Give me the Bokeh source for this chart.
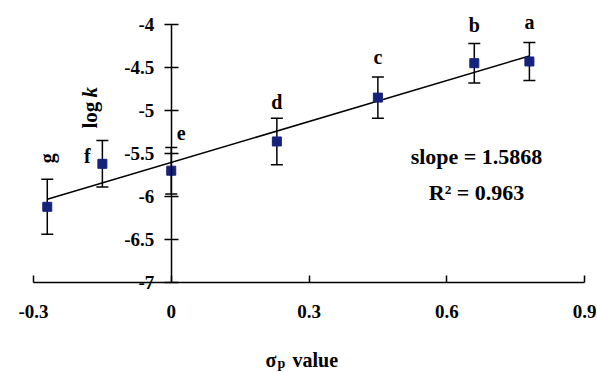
import numpy as np
from bokeh.plotting import figure
from bokeh.models import ColumnDataSource, Whisker, TeeHead, FixedTicker, Label
from bokeh.core.properties import value
from bokeh.embed import file_html
from bokeh.resources import INLINE

# ---- data ----
letters = ["g", "f", "e", "d", "c", "b", "a"]
sigma_p = [-0.27, -0.15, 0.00, 0.23, 0.45, 0.66, 0.78]
log_k = [-6.12, -5.62, -5.70, -5.36, -4.85, -4.45, -4.43]
err = [0.32, 0.27, 0.27, 0.27, 0.24, 0.23, 0.22]
x_ticks = [-0.3, 0.0, 0.3, 0.6, 0.9]
x_tick_labels = ["-0.3", "0", "0.3", "0.6", "0.9"]
y_ticks = [-7.0, -6.5, -6.0, -5.5, -5.0, -4.5, -4.0]
y_tick_labels = ["-7", "-6.5", "-6", "-5.5", "-5", "-4.5", "-4"]
slope_text = "slope = 1.5868"
r2_text = "R\u00b2 = 0.963"

FONT = "Liberation Serif"
W, H = 597, 372
# pixel positions of the axis ends (layout only)
PX_L, PX_R, PY_T, PY_B = 33, 584, 24, 282
X0, X1 = -0.3, 0.9
Y0, Y1 = -7.0, -4.0
ux = (X1 - X0) / (PX_R - PX_L)
uy = (Y1 - Y0) / (PY_B - PY_T)
xr = (X0 - PX_L * ux, X1 + (W - PX_R) * ux)
yr = (Y0 - (H - PY_B) * uy, Y1 + PY_T * uy)


def dx(px):
    return X0 + (px - PX_L) * ux


def dy(py):
    return Y0 + (PY_B - py) * uy


p = figure(width=W, height=H, x_range=xr, y_range=yr,
           output_backend="svg", toolbar_location=None,
           min_border=0)
p.outline_line_color = None
p.grid.visible = False
p.background_fill_color = "white"
p.border_fill_color = "white"

# axes
xa = p.xaxis[0]
xa.fixed_location = Y0
xa.bounds = (X0, X1)
xa.ticker = FixedTicker(ticks=x_ticks)
xa.major_label_overrides = {t: s for t, s in zip(x_ticks, x_tick_labels)}
xa.major_tick_in = 7
xa.major_tick_out = 0
xa.minor_tick_line_color = None
xa.axis_line_width = 1.5
xa.major_tick_line_width = 1.5
xa.major_label_standoff = 22
xa.major_label_text_font = FONT
xa.major_label_text_font_style = "bold"
xa.major_label_text_font_size = "19px"
xa.major_label_text_color = "black"

ya = p.yaxis[0]
ya.fixed_location = 0
ya.bounds = (Y0, Y1)
ya.ticker = FixedTicker(ticks=y_ticks)
ya.major_label_overrides = {t: s for t, s in zip(y_ticks, y_tick_labels)}
ya.major_tick_in = 7
ya.major_tick_out = 7
ya.minor_tick_line_color = None
ya.axis_line_width = 1.5
ya.major_tick_line_width = 1.5
ya.major_label_standoff = 10
ya.major_label_text_font = FONT
ya.major_label_text_font_style = "bold"
ya.major_label_text_font_size = "19px"
ya.major_label_text_color = "black"

# trend line from least squares fit
m, c = np.polyfit(sigma_p, log_k, 1)
xf = [min(sigma_p), max(sigma_p)]
p.line(xf, [m * v + c for v in xf], line_color="black", line_width=1.5)

# error bars
src = ColumnDataSource(dict(
    x=sigma_p, y=log_k,
    upper=[a + b for a, b in zip(log_k, err)],
    lower=[a - b for a, b in zip(log_k, err)],
    label=letters,
))
wh = Whisker(base="x", upper="upper", lower="lower", source=src,
             line_color="black", line_width=1.5,
             upper_head=TeeHead(size=12, line_width=1.5, line_color="black"),
             lower_head=TeeHead(size=12, line_width=1.5, line_color="black"))
p.add_layout(wh)

p.scatter("x", "y", source=src, marker="square", size=9,
          fill_color="#16237b", line_color="#16237b")

# point letters (positioned from the top of each error bar)
x_off = [0, -15, 10, 0, 0, 0, 0]
y_off = [-21, 15, -14, -16, -20, -18, -21]
ang = [np.pi / 2, 0, 0, 0, 0, 0, 0]
lsrc = ColumnDataSource(dict(x=sigma_p, y=src.data["upper"], t=letters,
                             xo=x_off, yo=y_off, a=ang))
p.text("x", "y", text="t", source=lsrc, x_offset="xo", y_offset="yo", angle="a",
       text_align="center", text_baseline="alphabetic",
       text_font=value(FONT), text_font_style="bold", text_font_size="20px",
       text_color="black")

# fit annotations
for txt, py in [(slope_text, 156), (r2_text, 192)]:
    p.add_layout(Label(x=dx(476), y=dy(py), text=txt, text_align="center",
                       text_baseline="middle", text_font=FONT,
                       text_font_style="bold", text_font_size="22px",
                       text_color="black"))

# y axis title (rotated, placed left of the axis)
p.add_layout(Label(x=dx(89), y=dy(128), text="log", angle=90, angle_units="deg",
                   text_align="left", text_baseline="middle", text_font=FONT,
                   text_font_style="bold", text_font_size="21px", text_color="black"))
p.add_layout(Label(x=dx(89), y=dy(97), text="k", angle=90, angle_units="deg",
                   text_align="left", text_baseline="middle", text_font=FONT,
                   text_font_style="bold italic", text_font_size="21px", text_color="black"))

# x axis title: sigma_p value
p.add_layout(Label(x=dx(265), y=dy(359), text="\u03c3", text_align="left",
                   text_baseline="middle", text_font=FONT, text_font_style="bold",
                   text_font_size="20px", text_color="black"))
p.add_layout(Label(x=dx(277), y=dy(363), text="p", text_align="left",
                   text_baseline="middle", text_font=FONT, text_font_style="bold",
                   text_font_size="14px", text_color="black"))
p.add_layout(Label(x=dx(292), y=dy(359), text="value", text_align="left",
                   text_baseline="middle", text_font=FONT, text_font_style="bold",
                   text_font_size="20px", text_color="black"))

open("out.html", "w").write(file_html(p, INLINE))
